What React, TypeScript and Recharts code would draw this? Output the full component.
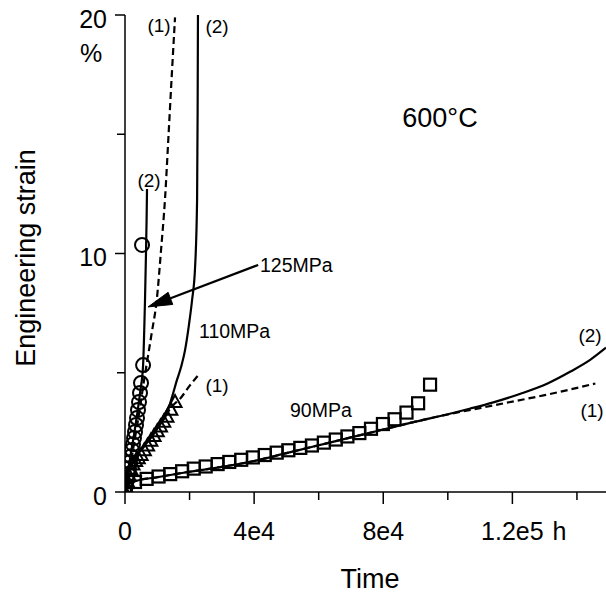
import React from 'react';
import {
  ComposedChart, Line, Scatter, XAxis, YAxis, ReferenceLine, Customized,
} from 'recharts';

// ---------- data (time h, engineering strain %) ----------
const xTicks = [0, 20000, 40000, 60000, 80000, 100000, 120000, 140000];
const xTickLabels: Record<number, string> = { 0: '0', 40000: '4e4', 80000: '8e4', 120000: '1.2e5' };
const yTicks = [0, 5, 10, 15, 20];
const yTickLabels: Record<number, string> = { 0: '0', 10: '10', 20: '20' };

// 125 MPa
const circles125: [number, number][] = [
  [0, 0], [310, 0.25], [620, 0.5], [930, 0.75], [1240, 1.0], [1550, 1.26], [1860, 1.5],
  [2170, 1.76], [2480, 2.0], [2790, 2.26], [3100, 2.52], [3410, 2.81], [3720, 3.1],
  [4030, 3.44], [4340, 3.77], [4650, 4.15], [4960, 4.57], [5600, 5.32], [5270, 10.36],
];
const curve125_1: [number, number][] = [
  [0, 0], [1500, 1.0], [3000, 2.2], [4500, 3.4], [5800, 4.6], [6920, 5.53], [8280, 6.67],
  [9830, 8.05], [11200, 10.2], [12400, 12.3], [13500, 15.0], [14500, 17.5], [15500, 19.9],
];
const curve125_2: [number, number][] = [
  [0, 0], [800, 0.7], [1800, 1.6], [2800, 2.4], [3800, 3.3], [4700, 4.2], [5600, 5.3],
  [5900, 6.5], [6200, 8.05], [6500, 10.0], [6700, 11.5], [6820, 12.7],
];

// 110 MPa
const triangles110: [number, number][] = [
  [0, 0], [300, 0.2], [700, 0.45], [1200, 0.7], [1800, 0.95], [2500, 1.15], [3300, 1.3],
  [4100, 1.42], [5000, 1.55], [6000, 1.75], [7000, 1.95], [8000, 2.15], [9000, 2.35],
  [10000, 2.55], [11000, 2.75], [12000, 2.95], [13000, 3.15], [14200, 3.45], [15500, 3.77],
];
const curve110_1: [number, number][] = [
  [0, 0], [700, 0.6], [1500, 0.95], [2500, 1.25], [3500, 1.5], [5000, 1.75], [7000, 2.1],
  [9000, 2.5], [11000, 2.9], [13000, 3.3], [15000, 3.65], [17000, 3.9], [20000, 4.45], [23250, 4.99],
];
const curve110_2: [number, number][] = [
  [0, 0], [700, 0.6], [1500, 1.0], [2500, 1.3], [3500, 1.55], [5000, 1.8], [7000, 2.1],
  [9000, 2.45], [11000, 2.85], [13000, 3.3], [14600, 4.0], [16100, 4.7], [17500, 5.3],
  [18600, 5.95], [19800, 7.0], [20780, 8.05], [21700, 9.4], [22330, 12.24], [22500, 16], [22600, 20],
];

// 90 MPa
const squares90: [number, number][] = [
  [0, 0], [3100, 0.42], [6700, 0.55], [10400, 0.65], [14000, 0.75], [17700, 0.87], [21300, 0.98],
  [25000, 1.07], [28700, 1.17], [32300, 1.26], [36000, 1.35], [39600, 1.45], [43300, 1.55],
  [47000, 1.65], [50600, 1.75], [54300, 1.85], [57900, 1.95], [61600, 2.07], [65300, 2.2],
  [68900, 2.33], [72600, 2.47], [76200, 2.65], [79900, 2.85], [83500, 3.05], [87200, 3.33],
  [90800, 3.72], [94500, 4.5],
];
const curve90_1: [number, number][] = [
  [0, 0], [1000, 0.3], [3000, 0.45], [10000, 0.62], [20000, 0.85], [30000, 1.05], [40000, 1.3],
  [50000, 1.63], [60000, 1.96], [70000, 2.29], [80000, 2.62], [90000, 2.95], [100000, 3.25],
  [110000, 3.52], [120000, 3.79], [130000, 4.06], [145700, 4.55],
];
const curve90_2: [number, number][] = [
  [0, 0], [1000, 0.3], [3000, 0.45], [10000, 0.62], [20000, 0.85], [30000, 1.05], [40000, 1.3],
  [50000, 1.63], [60000, 1.96], [70000, 2.29], [80000, 2.62], [90000, 2.95], [100000, 3.26],
  [107000, 3.5], [114100, 3.76], [122500, 4.12], [130900, 4.55], [138000, 5.05], [144200, 5.55],
  [149000, 6.05],
];

// arrow for the 125MPa label (from label to curve)
const arrow125: [number, number][] = [[41250, 9.52], [7130, 7.76]];

const toPts = (a: [number, number][]) => a.map(([x, y]) => ({ x, y }));

const FONT = '"Liberation Sans", Arial, Helvetica, sans-serif';
const W = 606;
const H = 594;

const XTick = (props: any) => {
  const { x, y, payload } = props;
  const v = payload.value as number;
  const label = xTickLabels[v];
  const major = label !== undefined;
  return (
    <g>
      <line x1={x} x2={x} y1={y} y2={y + (major ? 12 : 8)} stroke="#000" strokeWidth={1.5} />
      {major && (
        <text x={x} y={y + 48} textAnchor="middle" fontSize={25} fontFamily={FONT} fill="#000">
          {label}
        </text>
      )}
      {v === 120000 && (
        <text x={x + 40} y={y + 48} textAnchor="start" fontSize={25} fontFamily={FONT} fill="#000">
          h
        </text>
      )}
    </g>
  );
};

const YTick = (props: any) => {
  const { x, y, payload } = props;
  const v = payload.value as number;
  const label = yTickLabels[v];
  const major = label !== undefined;
  return (
    <g>
      <line x1={x - (major ? 10 : 8)} x2={x} y1={y} y2={y} stroke="#000" strokeWidth={1.5} />
      {major && (
        <text x={x - 18} y={y + 12.5} textAnchor="end" fontSize={25} fontFamily={FONT} fill="#000">
          {label}
        </text>
      )}
    </g>
  );
};

const circleShape = (p: any) => (
  <circle cx={p.cx} cy={p.cy} r={7} fill="none" stroke="#000" strokeWidth={2} />
);
const squareShape = (p: any) => (
  <rect x={p.cx - 6} y={p.cy - 6} width={12} height={12} fill="none" stroke="#000" strokeWidth={2.2} />
);
const triangleShape = (p: any) => (
  <polygon
    points={`${p.cx},${p.cy - 7} ${p.cx - 6.5},${p.cy + 5} ${p.cx + 6.5},${p.cy + 5}`}
    fill="none" stroke="#000" strokeWidth={2} strokeLinejoin="miter"
  />
);

const ArrowShape = (p: any) => {
  const { x1, y1, x2, y2 } = p;
  const dx = x2 - x1;
  const dy = y2 - y1;
  const len = Math.sqrt(dx * dx + dy * dy) || 1;
  const ux = dx / len;
  const uy = dy / len;
  const hl = 24;
  const hw = 6.5;
  const bx = x2 - ux * hl;
  const by = y2 - uy * hl;
  const pts = `${x2},${y2} ${bx - uy * hw},${by + ux * hw} ${bx + uy * hw},${by - ux * hw}`;
  return (
    <g>
      <line x1={x1} y1={y1} x2={bx + ux * 2} y2={by + uy * 2} stroke="#000" strokeWidth={2.2} />
      <polygon points={pts} fill="#000" stroke="#000" strokeWidth={1} />
    </g>
  );
};

const txt = (x: number, y: number, s: string, size: number, anchor: 'start' | 'middle' | 'end' = 'middle') => (
  <text x={x} y={y} textAnchor={anchor} fontSize={size} fontFamily={FONT} fill="#000">{s}</text>
);

const Annotations = () => (
  <g>
    {txt(91, 62, '%', 25)}
    {txt(370, 588, 'Time', 27)}
    <text
      transform="translate(35, 258) rotate(-90)"
      textAnchor="middle" fontSize={27} fontFamily={FONT} fill="#000"
    >
      Engineering strain
    </text>
    {txt(440, 127, '600°C', 27)}
    {txt(260, 272, '125MPa', 19.5, 'start')}
    {txt(199, 338, '110MPa', 19.5, 'start')}
    {txt(290, 417, '90MPa', 19.5, 'start')}
    {txt(159, 32, '(1)', 19)}
    {txt(217, 33, '(2)', 19)}
    {txt(149, 187, '(2)', 19)}
    {txt(217, 392, '(1)', 19)}
    {txt(590, 342, '(2)', 19)}
    {txt(592, 417, '(1)', 19)}
  </g>
);

const lineCommon = {
  dataKey: 'y',
  stroke: '#000',
  strokeWidth: 2.2,
  dot: false,
  activeDot: false,
  isAnimationActive: false,
  type: 'monotone' as const,
};

export default function App() {
  return (
    <div style={{ position: 'absolute', left: 0, top: 0, width: W, height: H, background: '#fff' }}>
      <ComposedChart width={W} height={H} margin={{ top: 15, right: 0, bottom: 0, left: 0 }}>
        <XAxis
          type="number" dataKey="x" domain={[0, 149000]} ticks={xTicks} interval={0}
          height={102} tickSize={0} tickMargin={0} tickLine={false} tick={XTick}
          axisLine={{ stroke: '#000', strokeWidth: 1.5 }} allowDataOverflow
        />
        <YAxis
          type="number" dataKey="y" domain={[0, 20]} ticks={yTicks} interval={0}
          width={125} tickSize={0} tickMargin={0} tickLine={false} tick={YTick}
          axisLine={{ stroke: '#000', strokeWidth: 1.5 }} allowDataOverflow
        />
        <Line {...lineCommon} data={toPts(curve90_1)} strokeDasharray="7 4" />
        <Line {...lineCommon} data={toPts(curve90_2)} />
        <Line {...lineCommon} data={toPts(curve110_1)} strokeDasharray="7 4" />
        <Line {...lineCommon} data={toPts(curve110_2)} />
        <Line {...lineCommon} data={toPts(curve125_1)} strokeDasharray="7 4" />
        <Line {...lineCommon} data={toPts(curve125_2)} />
        <Scatter data={toPts(squares90)} dataKey="y" shape={squareShape} isAnimationActive={false} />
        <Scatter data={toPts(triangles110)} dataKey="y" shape={triangleShape} isAnimationActive={false} />
        <Scatter data={toPts(circles125)} dataKey="y" shape={circleShape} isAnimationActive={false} />
        <ReferenceLine
          segment={toPts(arrow125) as any}
          shape={ArrowShape}
          ifOverflow="visible"
        />
        <Customized component={Annotations} />
      </ComposedChart>
    </div>
  );
}
